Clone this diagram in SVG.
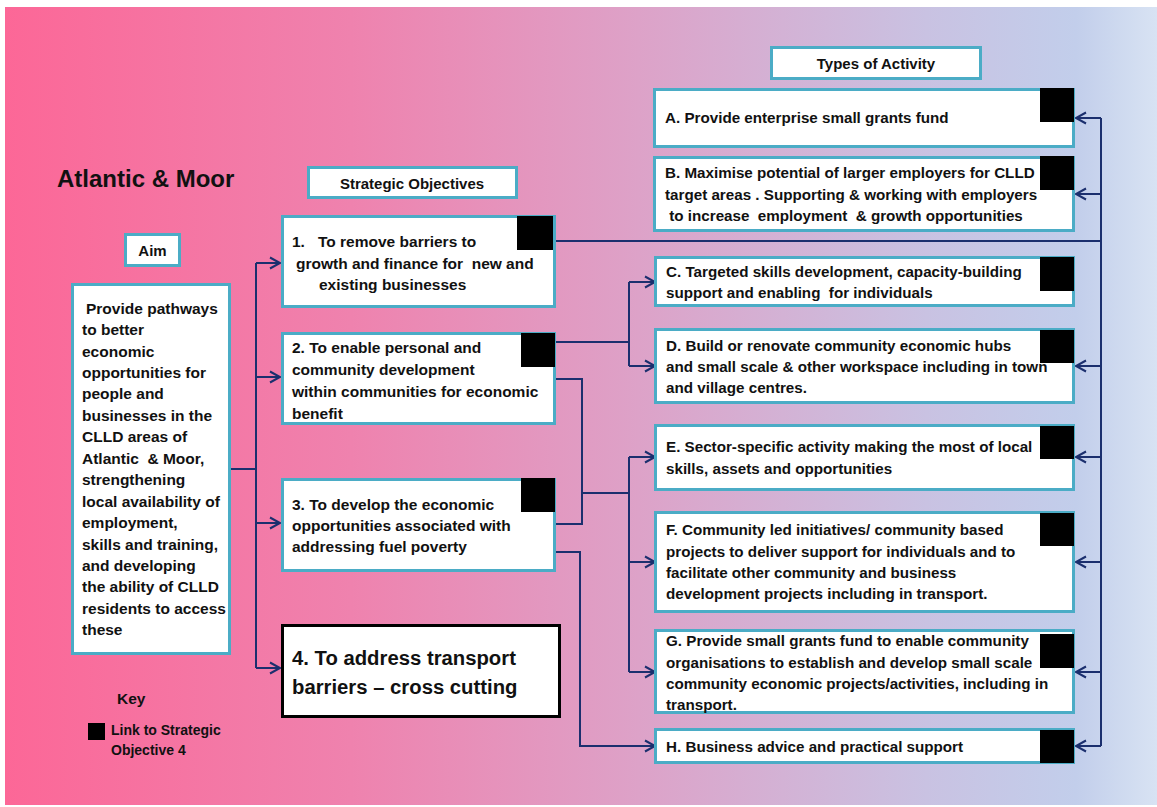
<svg xmlns="http://www.w3.org/2000/svg" width="1157" height="807" viewBox="0 0 1157 807">
<defs>
<linearGradient id="bg" x1="0" y1="0" x2="1" y2="0">
<stop offset="0" stop-color="#FC6797"/>
<stop offset="0.3" stop-color="#EF82AE"/>
<stop offset="0.55" stop-color="#DDA2C8"/>
<stop offset="0.8" stop-color="#C9C2E2"/>
<stop offset="0.93" stop-color="#C2CEEB"/>
<stop offset="1" stop-color="#D8E3F3"/>
</linearGradient>
<marker id="arr" markerUnits="userSpaceOnUse" markerWidth="14" markerHeight="14" refX="11" refY="7" orient="auto">
<path d="M1,1.5 L11,7 L1,12.5" fill="none" stroke="#1B2F6E" stroke-width="2"/>
</marker>
<style>
.box{fill:#fff;stroke:#4BACC6;stroke-width:3}
.box4{fill:#fff;stroke:#000;stroke-width:3}
.sq{fill:#000}
text{font-family:"Liberation Sans",Arial,sans-serif;font-weight:bold;fill:#111;white-space:pre}
.t{font-size:15.5px}
.a{font-size:15.2px}
.h{font-size:15px}
.c{fill:none;stroke:#1B2F6E;stroke-width:2}
</style>
</defs>
<rect x="0" y="0" width="1157" height="807" fill="#fff"/>
<rect x="5" y="7" width="1152" height="798" fill="url(#bg)"/>

<g id="title"><text x="57" y="187" style="font-size:24px">Atlantic &amp; Moor</text></g>

<g id="connectors">
<path class="c" d="M231,469 H256 M256,263 V668"/>
<path class="c" d="M256,263 H280" marker-end="url(#arr)"/>
<path class="c" d="M256,377 H280" marker-end="url(#arr)"/>
<path class="c" d="M256,523 H280" marker-end="url(#arr)"/>
<path class="c" d="M256,668 H280" marker-end="url(#arr)"/>
<path class="c" d="M556,241 H1101 M1101,118 V746"/>
<path class="c" d="M1101,118 H1076" marker-end="url(#arr)"/>
<path class="c" d="M1101,194 H1076" marker-end="url(#arr)"/>
<path class="c" d="M1101,366 H1076" marker-end="url(#arr)"/>
<path class="c" d="M1101,457 H1076" marker-end="url(#arr)"/>
<path class="c" d="M1101,562 H1076" marker-end="url(#arr)"/>
<path class="c" d="M1101,672 H1076" marker-end="url(#arr)"/>
<path class="c" d="M1101,746 H1076" marker-end="url(#arr)"/>
<path class="c" d="M556,342 H629 M629,282 V366"/>
<path class="c" d="M629,282 H655" marker-end="url(#arr)"/>
<path class="c" d="M629,366 H655" marker-end="url(#arr)"/>
<path class="c" d="M556,379 H582 V524 H556 M582,493 H629 M629,457 V672"/>
<path class="c" d="M629,457 H655" marker-end="url(#arr)"/>
<path class="c" d="M629,562 H655" marker-end="url(#arr)"/>
<path class="c" d="M629,672 H655" marker-end="url(#arr)"/>
<path class="c" d="M556,552 H580 V746 H655" marker-end="url(#arr)"/>
</g>

<g id="aim-header"><rect class="box" x="125.5" y="234.5" width="54" height="31"/><text class="h" x="152.5" y="256" text-anchor="middle">Aim</text></g>

<g id="aim">
<rect class="box" x="72.5" y="284.5" width="157" height="369"/>
<text class="t"><tspan x="86" y="313.6">Provide pathways</tspan><tspan x="82" y="335">to better</tspan><tspan x="82" y="356.5">economic</tspan><tspan x="82" y="378">opportunities for</tspan><tspan x="82" y="399.4">people and</tspan><tspan x="82" y="420.8">businesses in the</tspan><tspan x="82" y="442.3">CLLD areas of</tspan><tspan x="82" y="463.7">Atlantic  &amp; Moor,</tspan><tspan x="82" y="485.2">strengthening</tspan><tspan x="82" y="506.6">local availability of</tspan><tspan x="82" y="528">employment,</tspan><tspan x="82" y="549.5">skills and training,</tspan><tspan x="82" y="571">and developing</tspan><tspan x="82" y="592.4">the ability of CLLD</tspan><tspan x="82" y="613.8">residents to access</tspan><tspan x="82" y="635.3">these</tspan></text>
</g>

<g id="so-header"><rect class="box" x="308.5" y="167.5" width="208" height="30"/><text class="h" x="412" y="188.5" text-anchor="middle">Strategic Objectives</text></g>

<g id="obj1">
<rect class="box" x="282.5" y="216.5" width="272" height="90"/>
<text class="t"><tspan x="292" y="247">1.</tspan><tspan x="318" y="247">To remove barriers to</tspan><tspan x="296" y="268.7">growth and finance for  new and</tspan><tspan x="319" y="290">existing businesses</tspan></text>
<rect class="sq" x="517" y="216" width="36" height="34"/>
</g>

<g id="obj2">
<rect class="box" x="282.5" y="333.5" width="272" height="90"/>
<text class="t"><tspan x="292" y="353">2. To enable personal and</tspan><tspan x="292" y="375">community development</tspan><tspan x="292" y="397">within communities for economic</tspan><tspan x="292" y="418.7">benefit</tspan></text>
<rect class="sq" x="521" y="333" width="34" height="34"/>
</g>

<g id="obj3">
<rect class="box" x="282.5" y="479.5" width="272" height="91"/>
<text class="t"><tspan x="292" y="510">3. To develop the economic</tspan><tspan x="292" y="531">opportunities associated with</tspan><tspan x="292" y="552">addressing fuel poverty</tspan></text>
<rect class="sq" x="521" y="478" width="34" height="34"/>
</g>

<g id="obj4">
<rect class="box4" x="282.5" y="625.5" width="277" height="91"/>
<text style="font-size:20.3px"><tspan x="292" y="665">4. To address transport</tspan><tspan x="292" y="694">barriers – cross cutting</tspan></text>
</g>

<g id="toa-header"><rect class="box" x="771.5" y="47.5" width="209" height="31"/><text class="h" x="876" y="69" text-anchor="middle">Types of Activity</text></g>

<g id="actA">
<rect class="box" x="654.5" y="89.5" width="419" height="57"/>
<text class="a" x="665" y="123">A. Provide enterprise small grants fund</text>
<rect class="sq" x="1040" y="88" width="34" height="34"/>
</g>

<g id="actB">
<rect class="box" x="654.5" y="157.5" width="419" height="73"/>
<text class="a"><tspan x="665" y="178.3">B. Maximise potential of larger employers for CLLD</tspan><tspan x="665" y="200">target areas . Supporting &amp; working with employers</tspan><tspan x="665" y="220.7"> to increase  employment  &amp; growth opportunities</tspan></text>
<rect class="sq" x="1040" y="156" width="34" height="34"/>
</g>

<g id="actC">
<rect class="box" x="655.5" y="257.5" width="418" height="48"/>
<text class="a"><tspan x="666" y="276.7">C. Targeted skills development, capacity-building</tspan><tspan x="666" y="298.3">support and enabling  for individuals</tspan></text>
<rect class="sq" x="1040" y="257" width="34" height="34"/>
</g>

<g id="actD">
<rect class="box" x="655.5" y="329.5" width="418" height="73"/>
<text class="a"><tspan x="666" y="350.7">D. Build or renovate community economic hubs</tspan><tspan x="666" y="371.7">and small scale &amp; other workspace including in town</tspan><tspan x="666" y="393.3">and village centres.</tspan></text>
<rect class="sq" x="1040" y="330" width="34" height="33"/>
</g>

<g id="actE">
<rect class="box" x="655.5" y="425.5" width="418" height="64"/>
<text class="a"><tspan x="666" y="452.3">E. Sector-specific activity making the most of local</tspan><tspan x="666" y="474">skills, assets and opportunities</tspan></text>
<rect class="sq" x="1040" y="426" width="34" height="33"/>
</g>

<g id="actF">
<rect class="box" x="655.5" y="512.5" width="418" height="99"/>
<text class="a"><tspan x="666" y="535">F. Community led initiatives/ community based</tspan><tspan x="666" y="556.7">projects to deliver support for individuals and to</tspan><tspan x="666" y="578.3">facilitate other community and business</tspan><tspan x="666" y="599.3">development projects including in transport.</tspan></text>
<rect class="sq" x="1040" y="513" width="34" height="33"/>
</g>

<g id="actG">
<rect class="box" x="655.5" y="630.5" width="418" height="82"/>
<text class="a"><tspan x="666" y="645.7">G. Provide small grants fund to enable community</tspan><tspan x="666" y="667.7">organisations to establish and develop small scale</tspan><tspan x="666" y="689">community economic projects/activities, including in</tspan><tspan x="666" y="710">transport.</tspan></text>
<rect class="sq" x="1040" y="634" width="34" height="34"/>
</g>

<g id="actH">
<rect class="box" x="655.5" y="729.5" width="418" height="33"/>
<text class="a" x="666" y="751.7">H. Business advice and practical support</text>
<rect class="sq" x="1040" y="730" width="34" height="33"/>
</g>

<g id="key">
<text class="t" x="117" y="704">Key</text>
<rect class="sq" x="88" y="723" width="17" height="17"/>
<text style="font-size:14px"><tspan x="111" y="735">Link to Strategic</tspan><tspan x="111" y="755">Objective 4</tspan></text>
</g>
</svg>
